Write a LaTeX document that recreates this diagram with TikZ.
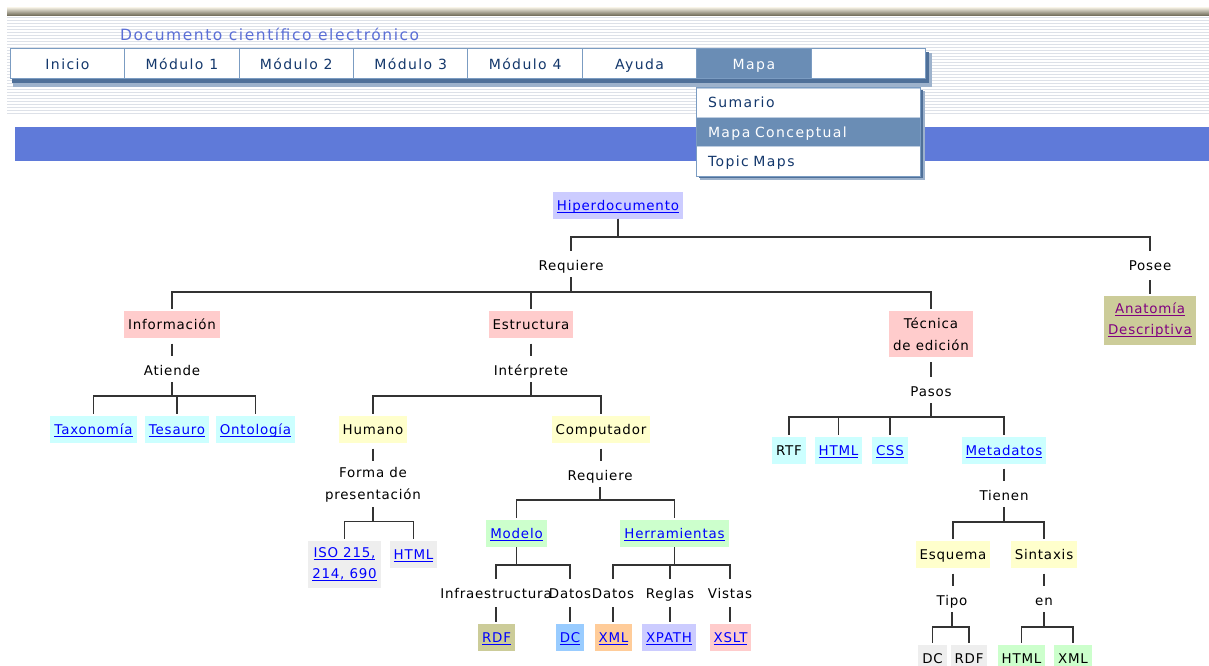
\documentclass[tikz,border=0pt]{standalone}
\usepackage{fontspec}
\usepackage{tikz}
\usetikzlibrary{positioning}
\usetikzlibrary{patterns}

\newfontfamily\fmenu{DejaVu Sans}[LetterSpace=10]
\newfontfamily\farbol{DejaVu Sans}[LetterSpace=6]
\newcommand\letramenu{\fmenu\fontsize{14}{16}\selectfont}
\newcommand\letraarbol{\farbol\fontsize{13.4}{21.5}\selectfont}
\newcommand\enlace[1]{\setbox0=\hbox{#1}\rlap{\rule[-2.5pt]{\wd0}{1pt}}\box0}

\definecolor{bordemenu}{HTML}{7B9CC2}
\definecolor{textomenu}{HTML}{14386C}
\definecolor{celdaact}{HTML}{6A8DB5}
\definecolor{sombra}{HTML}{4F7099}
\definecolor{sombraclara}{HTML}{9DB2CC}
\definecolor{titulo}{HTML}{5B6FD6}
\definecolor{banda}{HTML}{5F7AD9}
\definecolor{raya}{HTML}{DDE1E8}
\definecolor{barraclara}{HTML}{E9E5D8}
\definecolor{barraoscura}{HTML}{66624F}
\definecolor{linea}{HTML}{333333}
\definecolor{azulenlace}{HTML}{0000FF}
\definecolor{morado}{HTML}{800080}
\definecolor{lavanda}{HTML}{CCCCFF}
\definecolor{rosa}{HTML}{FFCCCC}
\definecolor{cian}{HTML}{CCFFFF}
\definecolor{amarillo}{HTML}{FFFFCC}
\definecolor{verde}{HTML}{CCFFCC}
\definecolor{gris}{HTML}{EEEEEE}
\definecolor{oliva}{HTML}{CCCC99}
\definecolor{celeste}{HTML}{99CCFF}
\definecolor{durazno}{HTML}{FFCC99}

\begin{document}
\begin{tikzpicture}[x=1pt,y=-1pt,
  celda/.style={draw=bordemenu,line width=1pt,fill=white,minimum width=114.4pt,minimum height=30pt,inner sep=0pt,outer sep=0pt,text height=12.5pt,text depth=1.5pt,font=\letramenu,text=textomenu},
  fila/.style={draw=bordemenu!50,line width=0.8pt,fill=white,text width=200pt,align=left,inner xsep=12pt,inner ysep=0pt,minimum height=29.4pt,outer sep=0pt,text height=11.5pt,text depth=1.5pt,font=\letramenu,text=textomenu},
  caja/.style={inner xsep=4pt,inner ysep=0pt,minimum height=27pt,text height=11.5pt,text depth=1.5pt,font=\letraarbol},
  caja2/.style={inner xsep=4pt,inner ysep=7pt,align=center,font=\letraarbol},
  etiq/.style={inner xsep=1pt,inner ysep=5.5pt,text height=11.5pt,text depth=1.5pt,font=\letraarbol},
  etiq2/.style={inner xsep=1pt,inner ysep=5pt,align=center,font=\letraarbol},
  vin/.style={text=azulenlace},
  conn/.style={draw=linea,line width=1.6pt,shorten >=1.5pt}]
\useasboundingbox (0,0) rectangle (1209,666);
\fill[white] (0,0) rectangle (1209,666);

% cabecera
\shade[top color=barraclara,bottom color=barraoscura] (7,8) rectangle (1209,16);
\fill[pattern=horizontal lines,pattern color=raya] (7,17) rectangle (1209,115);
\node[font=\fmenu\fontsize{15.5}{18}\selectfont,text=titulo,anchor=west,inner sep=0pt] (titulo) at (120,34) {Documento científico electrónico};

% menu
\fill[sombraclara] (13,53) rectangle (932,87);
\fill[sombra] (12,52) rectangle (929,83);
\node[celda] (inicio) at (67.5,64) {Inicio};
\node[celda,right=0pt of inicio] (mod1) {Módulo 1};
\node[celda,right=0pt of mod1] (mod2) {Módulo 2};
\node[celda,right=0pt of mod2] (mod3) {Módulo 3};
\node[celda,right=0pt of mod3] (mod4) {Módulo 4};
\node[celda,right=0pt of mod4] (ayuda) {Ayuda};
\node[celda,right=0pt of ayuda,fill=celdaact,text=white] (mapa) {Mapa};
\node[celda,right=0pt of mapa] (vacia) {};

\fill[banda] (15,127) rectangle (1209,161);

% desplegable
\fill[sombraclara] (700,91) rectangle (925,180);
\fill[sombra] (699,90) rectangle (923,178);
\node[fila] (sumario) at (808,102.7) {Sumario};
\node[fila,below=0pt of sumario,fill=celdaact,text=white] (mapac) {Mapa Conceptual};
\node[fila,below=0pt of mapac] (topic) {Topic Maps};
\draw[bordemenu,line width=1pt] (sumario.north west) rectangle (topic.south east);

% arbol
\node[caja,fill=lavanda,vin] (hiper) at (618,205) {\enlace{Hiperdocumento}};
\node[etiq] (req) at (571,265) {Requiere};
\node[etiq] (posee) at (1150,265) {Posee};
\node[caja2,fill=oliva,text=morado] (anat) at (1150,320) {\enlace{Anatomía}\\\enlace{Descriptiva}};

\node[caja,fill=rosa] (info) at (172,324) {Información};
\node[caja,fill=rosa] (estr) at (531,324) {Estructura};
\node[caja2,fill=rosa] (tecn) at (931,334) {Técnica\\de edición};

\node[etiq] (atiende) at (172,370) {Atiende};
\node[etiq] (interp) at (531,370) {Intérprete};
\node[etiq] (pasos) at (931,391) {Pasos};

\node[caja,fill=cian,vin] (taxo) at (93.5,429) {\enlace{Taxonomía}};
\node[caja,fill=cian,vin] (tesa) at (177,429) {\enlace{Tesauro}};
\node[caja,fill=cian,vin] (onto) at (255.5,429) {\enlace{Ontología}};

\node[caja,fill=amarillo] (humano) at (373,429) {Humano};
\node[caja,fill=amarillo] (compu) at (601,429) {Computador};

\node[caja,fill=cian] (rtf) at (789,450) {RTF};
\node[caja,fill=cian,vin] (htmla) at (838.5,450) {\enlace{HTML}};
\node[caja,fill=cian,vin] (css) at (890,450) {\enlace{CSS}};
\node[caja,fill=cian,vin] (meta) at (1004,450) {\enlace{Metadatos}};

\node[etiq2] (forma) at (373,485) {Forma de\\presentación};
\node[etiq] (req2) at (600,475) {Requiere};
\node[etiq] (tienen) at (1004,495) {Tienen};

\node[caja2,fill=gris,vin] (iso) at (344.5,564.5) {\enlace{ISO 215,}\\\enlace{214, 690}};
\node[caja,fill=gris,vin] (htmlb) at (413.5,554) {\enlace{HTML}};
\node[caja,fill=verde,vin] (modelo) at (516.5,533.5) {\enlace{Modelo}};
\node[caja,fill=verde,vin] (herr) at (674.5,533.5) {\enlace{Herramientas}};
\node[caja,fill=amarillo] (esquema) at (953,554) {Esquema};
\node[caja,fill=amarillo] (sintaxis) at (1044,554) {Sintaxis};

\node[etiq] (infra) at (496,593) {Infraestructura};
\node[etiq] (datos1) at (570,593) {Datos};
\node[etiq] (datos2) at (613,593) {Datos};
\node[etiq] (reglas) at (670,593) {Reglas};
\node[etiq] (vistas) at (730,593) {Vistas};
\node[etiq] (tipo) at (952,600) {Tipo};
\node[etiq] (en) at (1044,600) {en};

\node[caja,fill=oliva,vin] (rdf1) at (496.5,637.5) {\enlace{RDF}};
\node[caja,fill=celeste,vin] (dc1) at (570,637.5) {\enlace{DC}};
\node[caja,fill=durazno,vin] (xml1) at (613.5,637.5) {\enlace{XML}};
\node[caja,fill=lavanda,vin] (xpath) at (669,637.5) {\enlace{XPATH}};
\node[caja,fill=rosa,vin] (xslt) at (730.5,637.5) {\enlace{XSLT}};
\node[caja,fill=gris] (dc2) at (932.5,658) {DC};
\node[caja,fill=gris] (rdf2) at (969,658) {RDF};
\node[caja,fill=verde] (html2) at (1021.5,658) {HTML};
\node[caja,fill=verde] (xml2) at (1073,658) {XML};

% conectores
\draw[conn] (hiper.south) -- ++(0,18) -| (req.north);
\draw[conn] (hiper.south) -- ++(0,18) -| (posee.north);
\draw[conn,shorten <=3pt] (posee.south) -- (posee.south |- anat.north);
\draw[conn] (req.south) -- ++(0,15) -| (info.north);
\draw[conn] (req.south) -- ++(0,15) -| (estr.north);
\draw[conn] (req.south) -- ++(0,15) -| (tecn.north);

\draw[conn,shorten <=6pt] (info.south) -- (info.south |- atiende.north);
\draw[conn] (atiende.south) -- ++(0,14) -| (taxo.north);
\draw[conn] (atiende.south) -- ++(0,14) -| (tesa.north);
\draw[conn] (atiende.south) -- ++(0,14) -| (onto.north);

\draw[conn,shorten <=6pt] (estr.south) -- (estr.south |- interp.north);
\draw[conn] (interp.south) -- ++(0,14) -| (humano.north);
\draw[conn] (interp.south) -- ++(0,14) -| (compu.north);

\draw[conn,shorten <=5pt] (tecn.south) -- (tecn.south |- pasos.north);
\draw[conn] (pasos.south) -- ++(0,14) -| (rtf.north);
\draw[conn] (pasos.south) -- ++(0,14) -| (htmla.north);
\draw[conn] (pasos.south) -- ++(0,14) -| (css.north);
\draw[conn] (pasos.south) -- ++(0,14) -| (meta.north);

\draw[conn,shorten <=6pt] (humano.south) -- (humano.south |- forma.north);
\draw[conn] (forma.south) -- ++(0,14) -| (iso.north);
\draw[conn] (forma.south) -- ++(0,14) -| (htmlb.north);

\draw[conn,shorten <=6pt] (compu.south) -- (compu.south |- req2.north);
\draw[conn] (req2.south) -- ++(0,13) -| (modelo.north);
\draw[conn] (req2.south) -- ++(0,13) -| (herr.north);

\draw[conn] (modelo.south) -- ++(0,18) -| (infra.north);
\draw[conn] (modelo.south) -- ++(0,18) -| (datos1.north);
\draw[conn] (herr.south) -- ++(0,18) -| (datos2.north);
\draw[conn] (herr.south) -- ++(0,18) -| (reglas.north);
\draw[conn] (herr.south) -- ++(0,18) -| (vistas.north);

\draw[conn,shorten <=2pt] (infra.south) -- (infra.south |- rdf1.north);
\draw[conn,shorten <=2pt] (datos1.south) -- (datos1.south |- dc1.north);
\draw[conn,shorten <=2pt] (datos2.south) -- (datos2.south |- xml1.north);
\draw[conn,shorten <=2pt] (reglas.south) -- (reglas.south |- xpath.north);
\draw[conn,shorten <=2pt] (vistas.south) -- (vistas.south |- xslt.north);

\draw[conn,shorten <=5pt] (meta.south) -- (meta.south |- tienen.north);
\draw[conn] (tienen.south) -- ++(0,15) -| (esquema.north);
\draw[conn] (tienen.south) -- ++(0,15) -| (sintaxis.north);
\draw[conn,shorten <=6pt] (esquema.south) -- (esquema.south |- tipo.north);
\draw[conn,shorten <=6pt] (sintaxis.south) -- (sintaxis.south |- en.north);
\draw[conn] (tipo.south) -- ++(0,15) -| (dc2.north);
\draw[conn] (tipo.south) -- ++(0,15) -| (rdf2.north);
\draw[conn] (en.south) -- ++(0,15) -| (html2.north);
\draw[conn] (en.south) -- ++(0,15) -| (xml2.north);
\end{tikzpicture}
\end{document}
